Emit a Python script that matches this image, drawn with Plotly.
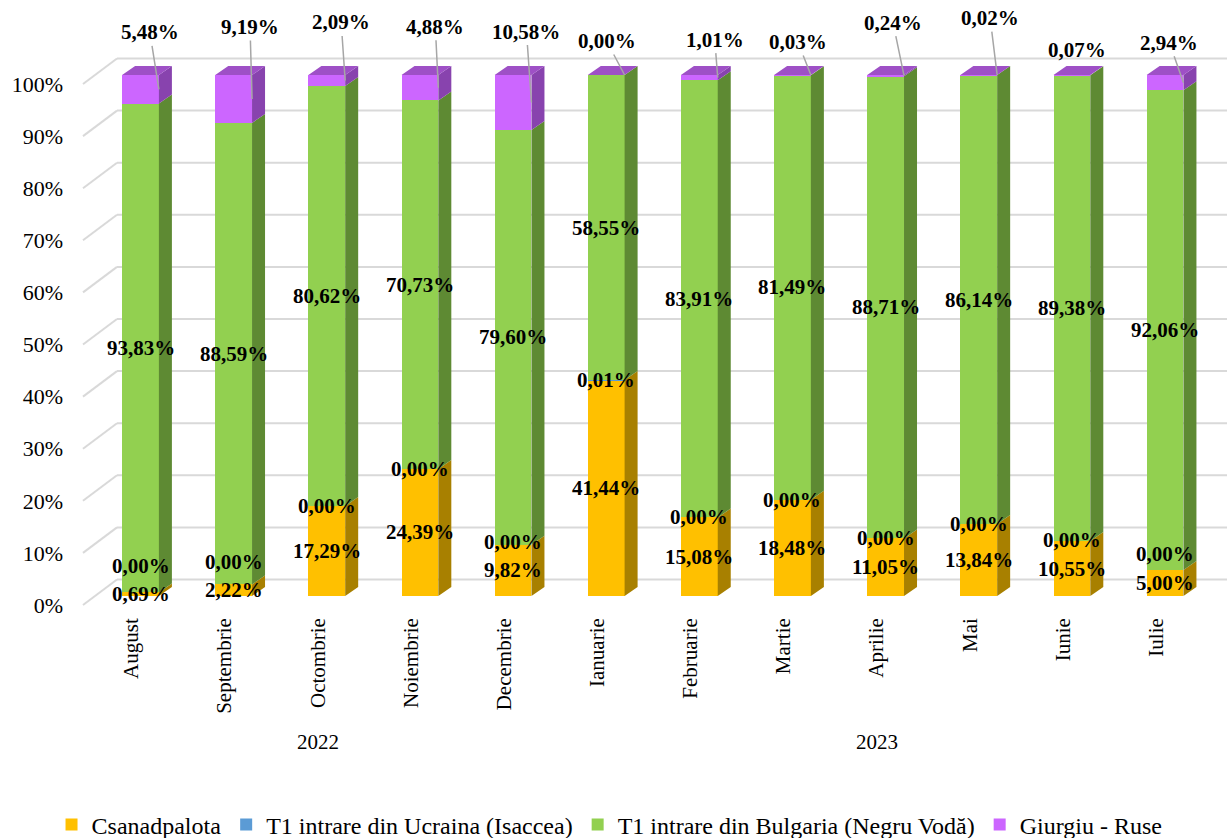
import plotly.graph_objects as go

# ---------------- data ----------------
months = ["August", "Septembrie", "Octombrie", "Noiembrie", "Decembrie", "Ianuarie",
          "Februarie", "Martie", "Aprilie", "Mai", "Iunie", "Iulie"]
years = ["2022", "2022", "2022", "2022", "2022",
         "2023", "2023", "2023", "2023", "2023", "2023", "2023"]
series_names = ["Csanadpalota", "T1 intrare din Ucraina (Isaccea)",
                "T1 intrare din Bulgaria (Negru Vodă)", "Giurgiu - Ruse"]
csanadpalota = [0.69, 2.22, 17.29, 24.39, 9.82, 41.44, 15.08, 18.48, 11.05, 13.84, 10.55, 5.00]
isaccea = [0.00, 0.00, 0.00, 0.00, 0.00, 0.01, 0.00, 0.00, 0.00, 0.00, 0.00, 0.00]
bulgaria = [93.83, 88.59, 80.62, 70.73, 79.60, 58.55, 83.91, 81.49, 88.71, 86.14, 89.38, 92.06]
giurgiu = [5.48, 9.19, 2.09, 4.88, 10.58, 0.00, 1.01, 0.03, 0.24, 0.02, 0.07, 2.94]
y_ticks = [0, 10, 20, 30, 40, 50, 60, 70, 80, 90, 100]

# ---------------- styling / geometry ----------------
front_colors = ["#FFC000", "#5B9BD5", "#92D050", "#CC66FF"]
side_colors = ["#A88000", "#3D6E99", "#5E8A33", "#8843AE"]
top_color = "#9E50C6"
FONT = "Liberation Serif"

PX_X = 93.14   # px per category unit
PX_Y = 5.21    # px per percent
W = 0.395      # bar width (category units)
DX = 13 / PX_X  # 3-D depth horizontally
DY = 9 / PX_Y   # 3-D depth vertically
LOFF = 9 / PX_Y    # label plane below bar front
BOFF = 16.5 / PX_Y  # back wall above bar front
GX0 = (83 - 140.5) / PX_X
GX1 = (117 - 140.5) / PX_X
X_LO = (75 - 140.5) / PX_X
X_HI = (1227 - 140.5) / PX_X
Y_HI = (596 - 10) / PX_Y
Y_LO = (596 - 608) / PX_Y
LBL_SHIFT = -9 / PX_X

# pixel offsets of the Giurgiu labels from their leader-line anchors
giurgiu_label_offsets = [(-9, -57), (-2, -72), (-4, -58), (-3, -61), (-5, -71), (-18, -34),
                         (-3, -38), (-13, -33), (-11, -53), (-7, -57), (-13, -25), (-14, -40)]

xs = list(range(len(months)))
series = [csanadpalota, isaccea, bulgaria, giurgiu]

fig = go.Figure()

# front faces
for name, vals, col in zip(series_names, series, front_colors):
    fig.add_trace(go.Bar(x=xs, y=vals, name=name, width=W,
                         marker=dict(color=col, line=dict(width=0)),
                         hoverinfo="skip"))

# side faces
for s_idx, (vals, col) in enumerate(zip(series, side_colors)):
    px_, py_ = [], []
    for i in xs:
        base = sum(series[k][i] for k in range(s_idx))
        top = base + vals[i]
        if vals[i] <= 0:
            continue
        xr = i + W / 2
        px_ += [xr, xr + DX, xr + DX, xr, xr, None]
        py_ += [base, base + DY, top + DY, top, base, None]
    fig.add_trace(go.Scatter(x=px_, y=py_, mode="lines", fill="toself",
                             fillcolor=col, line=dict(width=0, color=col),
                             showlegend=False, hoverinfo="skip"))

# top faces
tx, ty = [], []
for i in xs:
    total = sum(series[k][i] for k in range(4))
    xl, xr = i - W / 2, i + W / 2
    tx += [xl, xl + DX, xr + DX, xr, xl, None]
    ty += [total, total + DY, total + DY, total, total, None]
fig.add_trace(go.Scatter(x=tx, y=ty, mode="lines", fill="toself", fillcolor=top_color,
                         line=dict(width=0, color=top_color), showlegend=False, hoverinfo="skip"))

# gridlines on back wall (3-D)
shapes = []
for v in y_ticks:
    shapes.append(dict(type="line", xref="x", yref="y", x0=GX0, y0=v - LOFF, x1=GX1, y1=v + BOFF,
                       line=dict(color="#D9D9D9", width=2), layer="below"))
    shapes.append(dict(type="line", xref="x", yref="y", x0=GX1, y0=v + BOFF, x1=X_HI, y1=v + BOFF,
                       line=dict(color="#D9D9D9", width=2), layer="below"))


def fmt(v):
    return f"{v:.2f}%".replace(".", ",")


annotations = []
lblfont = dict(family=FONT, size=21, color="black", weight="bold")
for i in xs:
    c = csanadpalota[i]
    c_mid = c / 2
    annotations.append(dict(x=i, y=c_mid, text=fmt(c), showarrow=False, font=lblfont,
                            xanchor="center", yanchor="middle"))
    iy = max(c + isaccea[i] / 2, c_mid + 5.5)
    annotations.append(dict(x=i, y=iy, text=fmt(isaccea[i]), showarrow=False, font=lblfont,
                            xanchor="center", yanchor="middle"))
    b_lo = c + isaccea[i]
    annotations.append(dict(x=i, y=b_lo + bulgaria[i] / 2, text=fmt(bulgaria[i]), showarrow=False,
                            font=lblfont, xanchor="center", yanchor="middle"))
    g_lo = b_lo + bulgaria[i]
    ax, ay = giurgiu_label_offsets[i]
    show_leader = months[i] != "Iunie"
    annotations.append(dict(x=i + W / 2, y=g_lo + giurgiu[i] / 2, text=fmt(giurgiu[i]),
                            showarrow=True, arrowhead=0, arrowwidth=1.5, standoff=0,
                            arrowcolor="#A6A6A6" if show_leader else "rgba(0,0,0,0)",
                            ax=ax, ay=ay, font=lblfont))

# year group labels
for yr in sorted(set(years)):
    idx = [i for i, y in enumerate(years) if y == yr]
    annotations.append(dict(x=sum(idx) / len(idx) + LBL_SHIFT, xref="x", y=-0.224, yref="paper",
                            text=yr, showarrow=False, xanchor="center", yanchor="middle",
                            font=dict(family=FONT, size=21, color="black")))

fig.update_layout(
    barmode="stack",
    width=1227, height=838,
    margin=dict(l=75, r=0, t=10, b=230, autoexpand=False),
    paper_bgcolor="white", plot_bgcolor="white",
    showlegend=True,
    legend=dict(orientation="h", x=0.464, xanchor="center", y=-0.3629, yanchor="middle",
                font=dict(family=FONT, size=24, color="black"), itemwidth=30,
                traceorder="normal", borderwidth=0),
    shapes=shapes,
    annotations=annotations,
    xaxis=dict(range=[X_LO, X_HI], tickvals=[i + LBL_SHIFT for i in xs], ticktext=months,
               tickangle=-90, showgrid=False, zeroline=False, showline=False,
               tickfont=dict(family=FONT, size=21, color="black"), ticks="",
               ticklabelstandoff=5, automargin=False),
    yaxis=dict(range=[Y_LO, Y_HI], tickvals=[v - LOFF for v in y_ticks],
               ticktext=[f"{v}%" for v in y_ticks], showgrid=False, zeroline=False,
               showline=False, ticks="", ticklabelstandoff=11, automargin=False,
               tickfont=dict(family=FONT, size=22, color="black")),
)

fig.write_html("out.html", config={"displayModeBar": False},
               post_script="document.body.style.margin='0px';")
